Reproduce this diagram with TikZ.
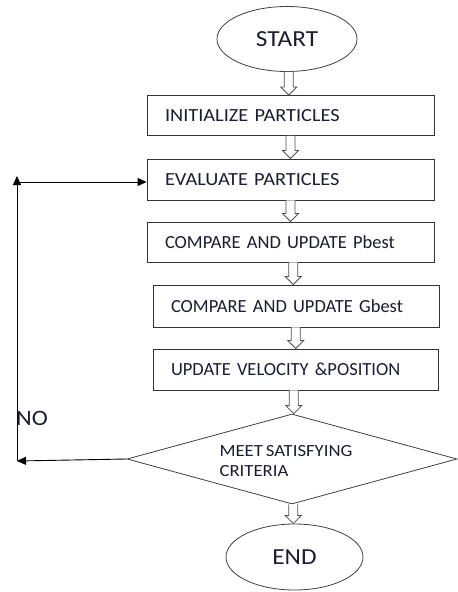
\documentclass[tikz,border=0pt]{standalone}
\usepackage{fontspec}
\setmainfont{Carlito}[FakeStretch=1.1, WordSpace=0.7]
\newfontfamily\plainfont{Carlito}[WordSpace=0.7]
\usetikzlibrary{shapes.geometric,arrows.meta,calc}
\definecolor{ink}{RGB}{28,28,50}
\definecolor{pipe}{RGB}{80,80,80}

% hollow block arrow between two named nodes
\newcommand\flowpipe[2]{%
  \draw[pipe, fill=white, line width=0.8pt]
    let \p1=(#1.south), \p2=(#2.north), \n1={(\x1+\x2)/2} in
    (\n1-4.5pt,\y1) -- (\n1-4.5pt,\y2+8pt) -- (\n1-8pt,\y2+8pt) -- (\n1,\y2)
    -- (\n1+8pt,\y2+8pt) -- (\n1+4.5pt,\y2+8pt) -- (\n1+4.5pt,\y1);}

\begin{document}
\begin{tikzpicture}[x=1pt,y=-1pt,
  every node/.style={text=ink},
  term/.style={ellipse, draw=black!75, line width=0.8pt, fill=white, font=\fontsize{23}{25}\selectfont},
  stepbox/.style={rectangle, draw=black!80, line width=0.9pt, fill=white,
    minimum height=40pt, inner xsep=18pt, align=left, font=\fontsize{18.5}{20}\selectfont},
  narrow/.style={font=\plainfont\fontsize{18.5}{20}\selectfont},
  decision/.style={diamond, draw=black!75, line width=0.8pt, fill=white, aspect=3.6,
    inner sep=0pt, minimum width=330pt, minimum height=90pt},
  loop/.style={black, line width=0.9pt, -{Triangle[length=9pt,width=8pt]}}]
\useasboundingbox (0,0) rectangle (458,592);

\node[term, minimum width=140pt, minimum height=65pt] (start) at (287,39) {START};
\node[stepbox, text width=251pt] (init) at (290.5,115.5) {\mbox{INITIALIZE PARTICLES}};
\node[stepbox, text width=251pt, minimum height=41pt] (eval) at (290.5,179.5) {\mbox{EVALUATE PARTICLES}};
\node[stepbox, narrow, text width=251pt] (pbest) at (290.5,242) {\mbox{COMPARE AND UPDATE Pbest}};
\node[stepbox, narrow, text width=250pt, minimum height=42pt] (gbest) at (296,306) {\mbox{COMPARE AND UPDATE Gbest}};
\node[stepbox, narrow, text width=249pt, minimum height=41pt] (vel) at (295.5,369.5) {\mbox{UPDATE VELOCITY \&POSITION}};
\node[decision] (crit) at (292,459) {};
\node[align=left, inner sep=0pt, font=\fontsize{17}{20}\selectfont] (critlabel) at (286,461) {MEET SATISFYING\\CRITERIA};
\node[term, minimum width=137pt, minimum height=66pt] (end) at (294.5,557) {END};

\flowpipe{start}{init}
\flowpipe{init}{eval}
\flowpipe{eval}{pbest}
\flowpipe{pbest}{gbest}
\flowpipe{gbest}{vel}
\flowpipe{vel}{crit}
\flowpipe{crit}{end}

% return path for the NO branch
\coordinate (back) at (17,461);
\coordinate (top) at (17,176);
\coordinate (feed) at (17,182);
\draw[loop] (crit.west) -- (back);
\draw[loop] (back) -- (top);
\draw[loop] (feed) -- (feed -| eval.west);
\node[anchor=south west, inner sep=0pt, font=\fontsize{22}{24}\selectfont] (no) at (16,426) {NO};
\end{tikzpicture}
\end{document}
